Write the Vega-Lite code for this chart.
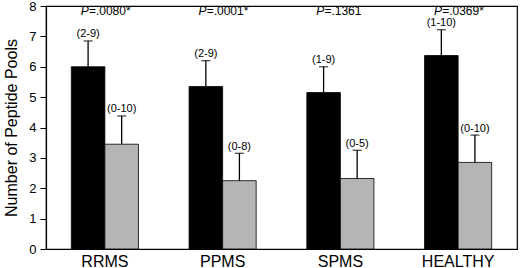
{
  "$schema": "https://vega.github.io/schema/vega-lite/v6.json",
  "width": 471,
  "height": 243,
  "autosize": {"type": "none"},
  "padding": {"left": 46, "top": 6, "right": 3, "bottom": 19},
  "config": {
    "font": "Liberation Sans",
    "view": {"stroke": "#000", "strokeWidth": 1.2},
    "axis": {"domainColor": "#000", "tickColor": "#000", "labelColor": "#000", "titleColor": "#000", "labelFont": "Liberation Sans", "titleFont": "Liberation Sans"}
  },
  "datasets": {
    "bars": [
      {"disease": "RRMS", "group": "A", "mean": 6.0, "upper": 6.85, "range": "(2-9)"},
      {"disease": "RRMS", "group": "B", "mean": 3.45, "upper": 4.38, "range": "(0-10)"},
      {"disease": "PPMS", "group": "A", "mean": 5.35, "upper": 6.2, "range": "(2-9)"},
      {"disease": "PPMS", "group": "B", "mean": 2.25, "upper": 3.15, "range": "(0-8)"},
      {"disease": "SPMS", "group": "A", "mean": 5.15, "upper": 6.0, "range": "(1-9)"},
      {"disease": "SPMS", "group": "B", "mean": 2.32, "upper": 3.25, "range": "(0-5)"},
      {"disease": "HEALTHY", "group": "A", "mean": 6.37, "upper": 7.22, "range": "(1-10)"},
      {"disease": "HEALTHY", "group": "B", "mean": 2.85, "upper": 3.75, "range": "(0-10)"}
    ],
    "pvals": [
      {"disease": "RRMS", "p": "=.0080*"},
      {"disease": "PPMS", "p": "=.0001*"},
      {"disease": "SPMS", "p": "=.1361"},
      {"disease": "HEALTHY", "p": "=.0369*"}
    ]
  },
  "encoding": {
    "x": {
      "field": "disease", "type": "nominal", "sort": ["RRMS", "PPMS", "SPMS", "HEALTHY"],
      "scale": {"paddingInner": 0.43, "paddingOuter": 0.215},
      "axis": {"title": null, "labelAngle": 0, "labelFontSize": 16, "ticks": false, "labelPadding": 4, "domainWidth": 1.2}
    }
  },
  "layer": [
    {
      "data": {"name": "bars"},
      "mark": {"type": "bar", "stroke": "#000", "strokeWidth": 0.8},
      "encoding": {
        "xOffset": {"field": "group", "type": "nominal", "scale": {"paddingInner": 0, "paddingOuter": 0}},
        "y": {
          "field": "mean", "type": "quantitative",
          "scale": {"domain": [0, 8], "nice": false},
          "axis": {"title": "Number of Peptide Pools", "titleFontSize": 16, "titleFontWeight": "normal", "labelFontSize": 13, "tickCount": 8, "grid": false, "tickSize": 6, "labelPadding": 4, "titlePadding": 9, "domainWidth": 1.2}
        },
        "color": {"field": "group", "type": "nominal", "scale": {"range": ["#000000", "#b5b5b5"]}, "legend": null}
      }
    },
    {
      "data": {"name": "bars"},
      "mark": {"type": "rule", "color": "#000", "strokeWidth": 1.3},
      "encoding": {
        "xOffset": {"field": "group", "type": "nominal", "scale": {"paddingInner": 0, "paddingOuter": 0}},
        "y": {"field": "mean", "type": "quantitative"},
        "y2": {"field": "upper"}
      }
    },
    {
      "data": {"name": "bars"},
      "mark": {"type": "tick", "color": "#000", "orient": "horizontal", "size": 9, "thickness": 1.3},
      "encoding": {
        "xOffset": {"field": "group", "type": "nominal", "scale": {"paddingInner": 0, "paddingOuter": 0}},
        "y": {"field": "upper", "type": "quantitative"}
      }
    },
    {
      "data": {"name": "bars"},
      "mark": {"type": "text", "color": "#000", "fontSize": 11, "dy": -6.5, "baseline": "middle"},
      "encoding": {
        "xOffset": {"field": "group", "type": "nominal", "scale": {"paddingInner": 0, "paddingOuter": 0}},
        "y": {"field": "upper", "type": "quantitative"},
        "text": {"field": "range"}
      }
    },
    {
      "data": {"name": "pvals"},
      "mark": {"type": "text", "color": "#000", "fontSize": 12, "fontStyle": "italic", "align": "right", "dx": -16, "baseline": "middle"},
      "encoding": {
        "y": {"datum": 7.83},
        "text": {"value": "P"}
      }
    },
    {
      "data": {"name": "pvals"},
      "mark": {"type": "text", "color": "#000", "fontSize": 12, "align": "left", "dx": -16, "baseline": "middle"},
      "encoding": {
        "y": {"datum": 7.83},
        "text": {"field": "p"}
      }
    }
  ]
}
